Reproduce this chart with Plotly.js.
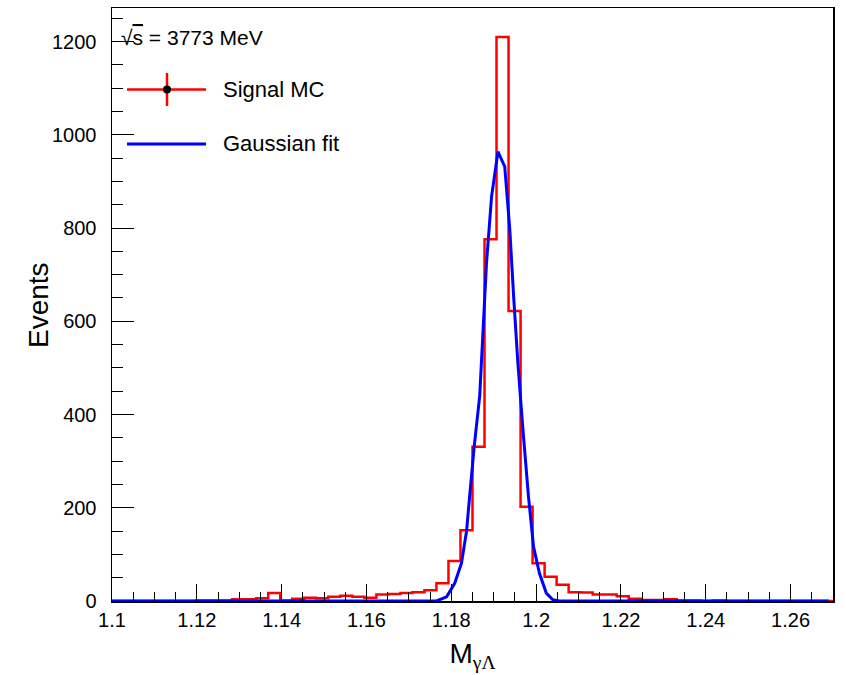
<!DOCTYPE html>
<html>
<head>
<meta charset="utf-8">
<script src="https://cdn.plot.ly/plotly-3.0.1.min.js"></script>
<style>html,body{margin:0;padding:0;background:#fff;}#chart{width:846px;height:675px;}</style>
</head>
<body>
<div id="chart"></div>
<script>
// Histogram: 60 equal bins from 1.10 to 1.27 (Signal MC)
const histMin = 1.10;
const histMax = 1.27;
const signalCounts = [
  0, 0, 0, 0, 0, 0, 0, 1, 1, 1,
  4, 4, 6, 17, 1, 5, 7, 6, 9, 11,
  9, 7, 14, 15, 17, 19, 23, 38, 86, 152,
  331, 776, 1210, 622, 202, 81, 52, 35, 19, 18,
  14, 14, 10, 5, 2, 2, 4, 1, 1, 0,
  1, 0, 0, 0, 0, 0, 0, 0, 0, 0
];

// Gaussian fit curve
const fitX = [1.100, 1.1700, 1.1765, 1.1789, 1.1808, 1.1824, 1.1836, 1.1843, 1.1854, 1.1867,
              1.1875, 1.1883, 1.1895, 1.1910, 1.1926, 1.1938, 1.1947, 1.1957, 1.1969, 1.1982,
              1.1994, 1.2008, 1.2024, 1.2039, 1.2055, 1.2690];
const fitY = [0, 0, 0, 9, 38, 81, 150, 222, 331, 440,
              582, 725, 868, 964, 932, 796, 653, 510, 367, 224,
              116, 59, 17, 3, 0, 0];

const headerText = '√<span style="text-decoration:overline">s</span> = 3773 MeV';
const legendLabels = ['Signal MC', 'Gaussian fit'];
const yTitle = 'Events';
const xTitle = 'M<sub><span style="font-family:Liberation Serif, serif">γΛ</span></sub>';

const nBins = signalCounts.length;
const binW = (histMax - histMin) / nBins;
const edges = [];
for (let k = 0; k <= nBins; k++) edges.push(histMin + k * binW);
const stepY = signalCounts.concat([signalCounts[nBins - 1]]);

const histTrace = {
  x: edges, y: stepY, type: 'scatter', mode: 'lines',
  line: {shape: 'hv', color: '#ff0000', width: 2.5},
  name: legendLabels[0], showlegend: false, hoverinfo: 'skip'
};
const fitTrace = {
  x: fitX, y: fitY, type: 'scatter', mode: 'lines',
  line: {color: '#0000ff', width: 3},
  name: legendLabels[1], showlegend: false, hoverinfo: 'skip'
};

// pixel -> paper helpers for the legend box (plot area: x 112..833, y 8..601)
const L = 112, R = 833, T = 8, B = 601;
const px = v => (v - L) / (R - L);
const py = v => (B - v) / (B - T);

const font = 'Liberation Sans, Arial, Helvetica, sans-serif';

const layout = {
  width: 846, height: 675,
  margin: {l: L, r: 846 - R, t: T, b: 675 - B, pad: 0},
  paper_bgcolor: '#fff', plot_bgcolor: '#fff',
  showlegend: false,
  font: {family: font, color: '#000'},
  xaxis: {
    range: [histMin, histMax], showgrid: false, zeroline: false,
    showline: true, linecolor: '#000', linewidth: 1.5, mirror: true,
    ticks: 'inside', ticklen: 17, tickwidth: 1, tickcolor: '#000',
    tickmode: 'linear', tick0: 1.1, dtick: 0.02, tickformat: '.2~f',
    minor: {ticks: 'inside', ticklen: 9, tickwidth: 1, tickcolor: '#000', dtick: 0.005, showgrid: false},
    tickfont: {size: 20, family: font},
    title: {text: xTitle, font: {size: 28, family: font}, standoff: 14},
    automargin: false
  },
  yaxis: {
    range: [0, 1272], showgrid: false, zeroline: false,
    showline: true, linecolor: '#000', linewidth: 1.5, mirror: true,
    ticks: 'inside', ticklen: 22, tickwidth: 1, tickcolor: '#000',
    tickmode: 'linear', tick0: 0, dtick: 200,
    minor: {ticks: 'inside', ticklen: 11, tickwidth: 1, tickcolor: '#000', dtick: 50, showgrid: false},
    tickfont: {size: 20, family: font},
    ticklabelstandoff: 10,
    automargin: false
  },
  shapes: [
    {type: 'line', xref: 'paper', yref: 'paper', x0: px(127), x1: px(206), y0: py(89.5), y1: py(89.5), line: {color: '#ff0000', width: 2.5}},
    {type: 'line', xref: 'paper', yref: 'paper', x0: px(167), x1: px(167), y0: py(73), y1: py(106), line: {color: '#ff0000', width: 2.5}},
    {type: 'circle', xref: 'paper', yref: 'paper', x0: px(163), x1: px(171), y0: py(93.5), y1: py(85.5), fillcolor: '#000', line: {color: '#000', width: 0}},
    {type: 'line', xref: 'paper', yref: 'paper', x0: px(127), x1: px(206), y0: py(144), y1: py(144), line: {color: '#0000ff', width: 3}}
  ],
  annotations: [
    {xref: 'paper', yref: 'paper', x: px(119), y: py(37), text: headerText, showarrow: false, xanchor: 'left', yanchor: 'middle', font: {size: 21, family: font}},
    {xref: 'paper', yref: 'paper', x: px(221), y: py(89.5), text: legendLabels[0], showarrow: false, xanchor: 'left', yanchor: 'middle', font: {size: 22, family: font}},
    {xref: 'paper', yref: 'paper', x: px(221), y: py(144), text: legendLabels[1], showarrow: false, xanchor: 'left', yanchor: 'middle', font: {size: 22, family: font}},
    {xref: 'paper', yref: 'paper', x: px(38), y: py(305), text: yTitle, textangle: -90, showarrow: false, xanchor: 'center', yanchor: 'middle', font: {size: 28, family: font}}
  ]
};

Plotly.newPlot('chart', [histTrace, fitTrace], layout, {staticPlot: true, displayModeBar: false});
</script>
</body>
</html>
